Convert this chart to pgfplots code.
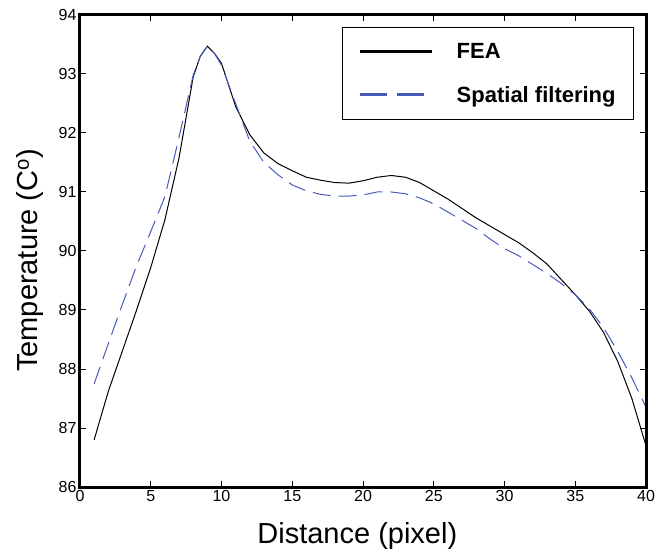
\documentclass[border=0pt]{standalone}
\usepackage{fontspec}
\setmainfont{Liberation Sans}
\usepackage{pgfplots}
\pgfplotsset{compat=1.18}
\definecolor{sfblue}{RGB}{70,90,190}
\pgfplotstableread{
x y
1 86.80
2 87.62
3 88.31
4 89.00
5 89.72
6 90.53
7 91.58
8 92.95
8.5 93.30
9 93.47
9.5 93.35
10 93.18
11 92.45
12 91.97
13 91.66
14 91.48
15 91.36
16 91.25
17 91.20
18 91.16
19 91.15
20 91.19
21 91.25
22 91.28
23 91.25
24 91.16
25 91.02
26 90.88
27 90.72
28 90.56
29 90.42
30 90.28
31 90.14
32 89.97
33 89.78
34 89.52
35 89.26
36 88.98
37 88.62
38 88.13
39 87.50
40 86.70
}\fea
\pgfplotstableread{
x y
1 87.75
2 88.43
3 89.10
4 89.75
5 90.33
6 90.92
7 91.93
8 92.98
8.5 93.30
9 93.47
9.5 93.35
10 93.15
11 92.50
12 91.86
13 91.50
14 91.29
15 91.12
16 91.02
17 90.96
18 90.93
19 90.93
20 90.95
21 91.00
22 91.00
23 90.97
24 90.90
25 90.80
26 90.66
27 90.52
28 90.38
29 90.20
30 90.04
31 89.92
32 89.77
33 89.62
34 89.45
35 89.26
36 89.02
37 88.70
38 88.30
39 87.85
40 87.35
}\sf
\begin{document}
\begin{tikzpicture}
\begin{axis}[
  name=ax,
  scale only axis, width=566pt, height=472pt,
  xmin=0, xmax=40, ymin=86, ymax=94,
  xtick={0,5,...,40}, ytick={86,87,...,94},
  tick align=inside, major tick length=6pt,
  every tick/.style={black, line width=1pt},
  /pgf/number format/assume math mode=true,
  tick label style={font=\fontsize{16}{16}\selectfont},
  xlabel={Distance (pixel)},
  ylabel={Temperature (C\textsuperscript{o})},
  label style={font=\fontsize{29}{29}\selectfont},
  xlabel style={at={(axis description cs:0.49,-0.1193)}, anchor=base},
  ylabel style={at={(axis description cs:-0.0742,0.48)}, anchor=base},
  legend cell align=left,
  legend style={at={(axis description cs:0.979,0.9746)}, anchor=north east,
    draw=black, line width=1pt,
    font=\fontsize{22}{22}\selectfont\bfseries,
    inner xsep=16pt, inner ysep=14pt, row sep=22pt},
  legend image code/.code={\draw[#1] (0pt,0pt) -- (72pt,0pt);},
  after end axis/.code={\draw[black, solid, line width=3pt, line cap=rect] (rel axis cs:0,0) rectangle (rel axis cs:1,1);},
]
\addplot[black, line width=1pt, legend image post style={line width=3pt}] table[x=x,y=y] {\fea};
\addlegendentry{\hspace{21pt}FEA}
\addplot[sfblue, line width=1pt, dash pattern=on 18pt off 8pt,
  legend image post style={line width=3pt, dash pattern=on 27pt off 10pt}] table[x=x,y=y] {\sf};
\addlegendentry{\hspace{21pt}Spatial filtering}
\end{axis}
\pgfresetboundingbox
\path[use as bounding box] ([shift={(-80pt,-61pt)}]ax.south west) rectangle ([shift={(19pt,15pt)}]ax.north east);
\end{tikzpicture}
\end{document}
